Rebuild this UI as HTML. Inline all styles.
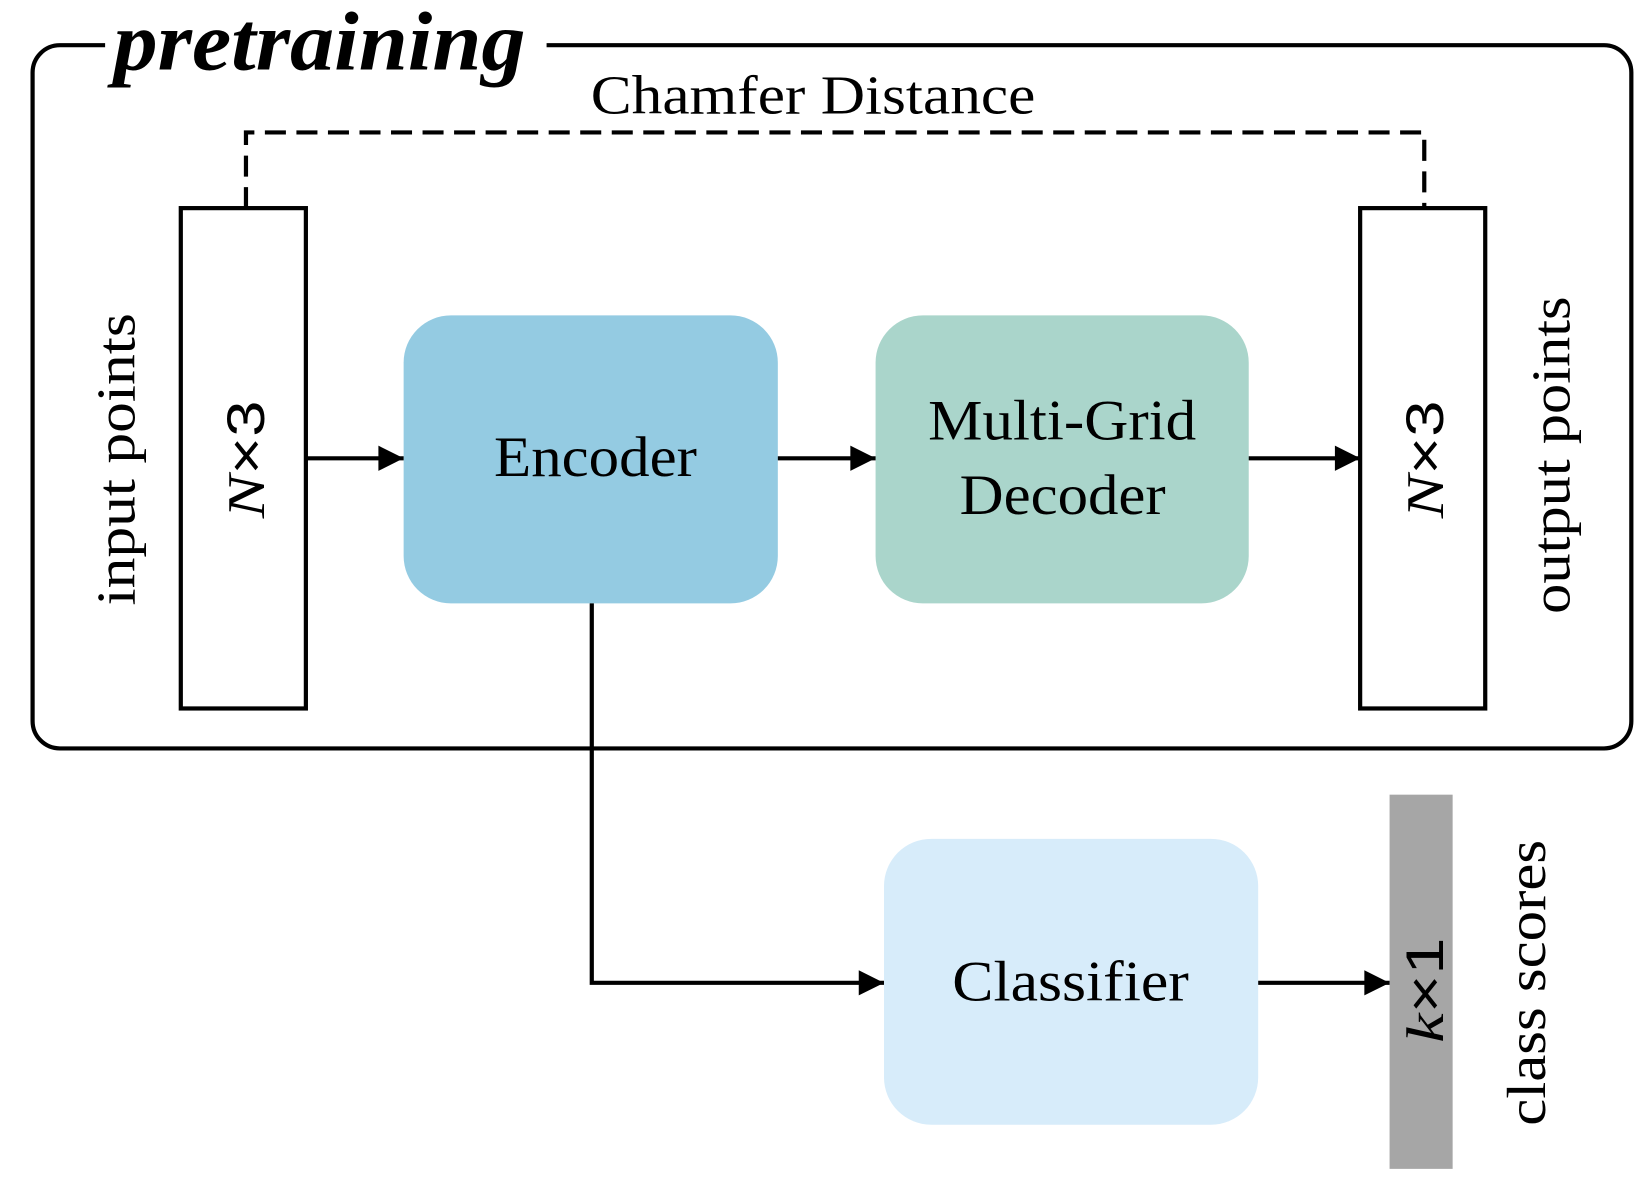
<!DOCTYPE html>
<html><head><meta charset="utf-8"><style>html,body{margin:0;padding:0;background:#fff}svg{display:block}</style></head>
<body>
<svg width="1645" height="1192" viewBox="0 0 1565 1134" preserveAspectRatio="none" xmlns="http://www.w3.org/2000/svg" font-family="Liberation Serif, serif">
<defs>
<marker id="b" viewBox="0 0 10 10" refX="10" refY="5" markerWidth="26" markerHeight="24" orient="auto" markerUnits="userSpaceOnUse"><path d="M0,0 L10,5 L0,10z" fill="#000"/></marker></defs>
<rect x="31" y="43" width="1521" height="669" rx="26" fill="none" stroke="#000" stroke-width="4"/>
<rect x="100" y="30" width="420" height="30" fill="#fff"/>
<text x="108" y="66" font-size="80" font-weight="bold" font-style="italic" textLength="392" lengthAdjust="spacingAndGlyphs">pretraining</text>
<text x="562" y="108" font-size="52" textLength="423" lengthAdjust="spacingAndGlyphs">Chamfer Distance</text>
<path d="M234,198 V126 H1355 V198" fill="none" stroke="#000" stroke-width="4" stroke-dasharray="20,10"/>
<rect x="172" y="198" width="119" height="476" fill="#fff" stroke="#000" stroke-width="4"/>
<rect x="1294" y="198" width="119" height="476" fill="#fff" stroke="#000" stroke-width="4"/>
<rect x="384" y="300" width="356" height="274" rx="45" fill="#94cbe2"/>
<rect x="833" y="300" width="355" height="274" rx="45" fill="#aad5cb"/>
<rect x="841" y="798" width="356" height="272" rx="45" fill="#d7ecfa"/>
<rect x="1322" y="756" width="60" height="356" fill="#a6a6a6"/>
<text x="470" y="453" font-size="54" textLength="193" lengthAdjust="spacingAndGlyphs">Encoder</text>
<text x="883" y="418" font-size="54" textLength="255" lengthAdjust="spacingAndGlyphs">Multi-Grid</text>
<text x="913" y="489" font-size="54" textLength="196" lengthAdjust="spacingAndGlyphs">Decoder</text>
<text x="906" y="952" font-size="54" textLength="225" lengthAdjust="spacingAndGlyphs">Classifier</text>
<g stroke="#000" stroke-width="4" fill="none">
<path d="M291,436 H384" marker-end="url(#b)"/>
<path d="M740,436 H833" marker-end="url(#b)"/>
<path d="M1188,436 H1294" marker-end="url(#b)"/>
<path d="M563,574 V935 H841" marker-end="url(#b)"/>
<path d="M1197,935 H1322" marker-end="url(#b)"/>
</g>
<text transform="translate(128,437) rotate(-90)" font-size="52" text-anchor="middle" textLength="278" lengthAdjust="spacingAndGlyphs">input points</text>
<text transform="translate(1493,433) rotate(-90)" font-size="52" text-anchor="middle" textLength="302" lengthAdjust="spacingAndGlyphs">output points</text>
<text transform="translate(1470,935) rotate(-90)" font-size="52" text-anchor="middle" textLength="272" lengthAdjust="spacingAndGlyphs">class scores</text>
<text transform="translate(251,437) rotate(-90)" font-size="50" text-anchor="middle" textLength="112" lengthAdjust="spacingAndGlyphs"><tspan font-style="italic">N</tspan><tspan font-family="Liberation Sans, sans-serif">×3</tspan></text>
<text transform="translate(1373,437) rotate(-90)" font-size="50" text-anchor="middle" textLength="112" lengthAdjust="spacingAndGlyphs"><tspan font-style="italic">N</tspan><tspan font-family="Liberation Sans, sans-serif">×3</tspan></text>
<text transform="translate(1373,942) rotate(-90)" font-size="50" text-anchor="middle" textLength="100" lengthAdjust="spacingAndGlyphs"><tspan font-style="italic">k</tspan><tspan font-family="Liberation Sans, sans-serif">×1</tspan></text>
</svg>
</body></html>
